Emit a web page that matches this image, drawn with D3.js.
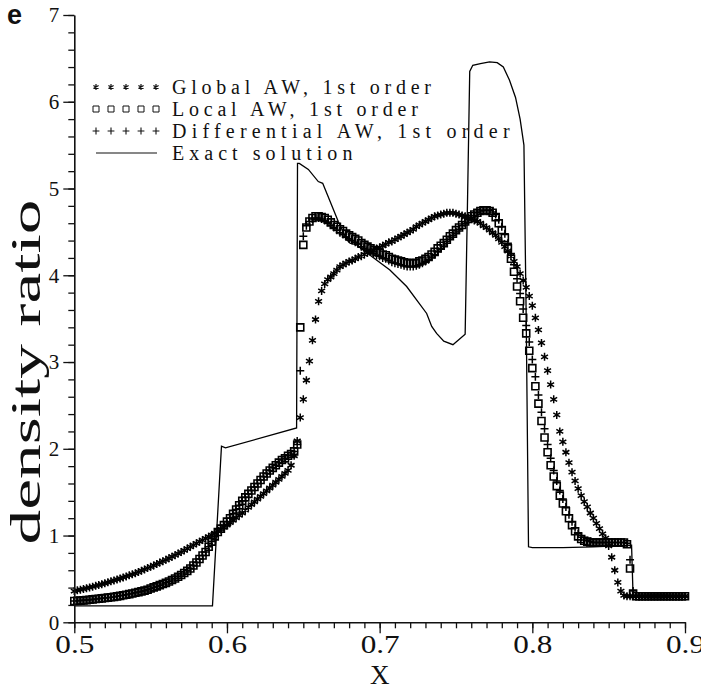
<!DOCTYPE html>
<html><head><meta charset="utf-8">
<script src="https://cdn.jsdelivr.net/npm/d3@7"></script>
<style>body{margin:0;background:#fff}</style>
</head><body>
<svg id="c" width="701" height="692"></svg>
<script>
// ---------- data ----------
const xTicks = [0.5, 0.6, 0.7, 0.8, 0.9];
const xTickLabels = ["0.5", "0.6", "0.7", "0.8", "0.9"];
const yTicks = [0, 1, 2, 3, 4, 5, 6, 7];
const yTickLabels = ["0", "1", "2", "3", "4", "5", "6", "7"];
const seriesNames = ["Global AW, 1st order", "Local AW, 1st order", "Differential AW, 1st order", "Exact solution"];
const panelLabel = "e";
const xTitle = "X";
const yTitle = "density ratio";

// sample positions of the numerical solutions: 0.5 .. 0.9, every 0.002
const gridStart = 0.5, gridStep = 0.002, gridCount = 201;

const globalAW = [
  0.36,0.368,0.376,0.384,0.393,0.402,0.411,0.42,0.43,0.44,
  0.45,0.461,0.472,0.483,0.494,0.505,0.517,0.529,0.541,0.553,
  0.565,0.58,0.595,0.61,0.625,0.64,0.656,0.672,0.688,0.704,
  0.72,0.738,0.756,0.774,0.792,0.81,0.83,0.85,0.87,0.89,
  0.91,0.929,0.948,0.967,0.986,1.005,1.028,1.051,1.074,1.097,
  1.12,1.148,1.176,1.204,1.232,1.26,1.292,1.324,1.356,1.388,
  1.42,1.452,1.484,1.516,1.548,1.58,1.614,1.648,1.682,1.716,
  1.75,1.81,1.92,2.09,2.36,2.57,2.79,3.01,3.25,3.49,
  3.70,3.82,3.90,3.95,3.98,4.02,4.06,4.10,4.12,4.14,
  4.16,4.17,4.19,4.21,4.22,4.24,4.26,4.27,4.29,4.31,
  4.32,4.34,4.36,4.38,4.39,4.41,4.43,4.45,4.47,4.49,
  4.51,4.53,4.56,4.58,4.60,4.62,4.64,4.66,4.68,4.69,
  4.70,4.71,4.72,4.72,4.72,4.71,4.70,4.69,4.68,4.66,
  4.65,4.63,4.62,4.60,4.57,4.55,4.52,4.49,4.46,4.42,
  4.38,4.33,4.28,4.22,4.16,4.10,4.02,3.94,3.86,3.76,
  3.65,3.51,3.37,3.22,3.06,2.90,2.74,2.57,2.39,2.20,
  2.08,1.96,1.84,1.73,1.63,1.54,1.46,1.39,1.33,1.26,
  1.20,1.14,1.08,1.02,0.97,0.88,0.75,0.60,0.46,0.36,
  0.31,0.30,0.30,0.30,0.30,0.30,0.30,0.30,0.30,0.30,
  0.30,0.30,0.30,0.30,0.30,0.30,0.30,0.30,0.30,0.30,
  0.30
];
const localAW = [
  0.245,0.247,0.25,0.253,0.256,0.26,0.264,0.268,0.272,0.276,
  0.28,0.284,0.288,0.293,0.299,0.305,0.311,0.318,0.325,0.332,
  0.34,0.348,0.356,0.365,0.376,0.39,0.402,0.414,0.428,0.442,
  0.455,0.471,0.487,0.505,0.525,0.545,0.569,0.593,0.62,0.655,
  0.69,0.73,0.77,0.81,0.87,0.93,0.99,1.04,1.08,1.12,
  1.16,1.20,1.25,1.30,1.35,1.40,1.44,1.48,1.52,1.56,
  1.60,1.64,1.68,1.715,1.75,1.78,1.81,1.84,1.87,1.89,
  1.92,1.94,1.97,2.05,3.40,4.35,4.55,4.62,4.66,4.68,
  4.68,4.67,4.66,4.64,4.61,4.58,4.56,4.53,4.51,4.48,
  4.46,4.44,4.42,4.40,4.37,4.35,4.33,4.31,4.29,4.27,
  4.26,4.24,4.23,4.21,4.19,4.18,4.17,4.16,4.15,4.14,
  4.14,4.14,4.14,4.16,4.17,4.19,4.21,4.24,4.27,4.31,
  4.34,4.37,4.41,4.45,4.48,4.52,4.55,4.58,4.62,4.65,
  4.68,4.70,4.72,4.74,4.75,4.75,4.74,4.72,4.67,4.60,
  4.52,4.43,4.31,4.19,4.04,3.87,3.70,3.51,3.33,3.13,
  2.93,2.72,2.52,2.32,2.13,1.96,1.81,1.68,1.57,1.46,
  1.37,1.28,1.20,1.12,1.05,0.99,0.96,0.94,0.93,0.92,
  0.92,0.92,0.92,0.92,0.92,0.92,0.92,0.92,0.92,0.92,
  0.92,0.90,0.62,0.33,0.30,0.30,0.30,0.30,0.30,0.30,
  0.30,0.30,0.30,0.30,0.30,0.30,0.30,0.30,0.30,0.30,
  0.30
];
const differentialAW = [
  0.245,0.247,0.25,0.253,0.256,0.26,0.264,0.268,0.272,0.276,
  0.28,0.284,0.288,0.293,0.299,0.305,0.311,0.318,0.325,0.332,
  0.34,0.348,0.356,0.365,0.376,0.39,0.402,0.414,0.428,0.442,
  0.455,0.471,0.487,0.505,0.525,0.545,0.569,0.593,0.62,0.655,
  0.69,0.73,0.77,0.81,0.87,0.93,0.99,1.04,1.08,1.12,
  1.16,1.20,1.25,1.30,1.35,1.40,1.44,1.48,1.52,1.56,
  1.60,1.64,1.68,1.715,1.75,1.78,1.81,1.84,1.87,1.89,
  1.92,1.94,1.97,2.05,2.90,4.45,4.57,4.62,4.65,4.66,
  4.66,4.65,4.63,4.61,4.58,4.55,4.52,4.49,4.47,4.44,
  4.42,4.40,4.38,4.36,4.33,4.31,4.29,4.27,4.25,4.23,
  4.22,4.20,4.19,4.17,4.15,4.14,4.13,4.12,4.11,4.10,
  4.10,4.10,4.11,4.12,4.14,4.16,4.18,4.21,4.24,4.28,
  4.31,4.35,4.39,4.43,4.46,4.50,4.53,4.57,4.60,4.64,
  4.67,4.69,4.72,4.74,4.75,4.75,4.75,4.73,4.70,4.64,
  4.56,4.48,4.37,4.25,4.12,3.96,3.79,3.61,3.42,3.23,
  3.03,2.83,2.62,2.42,2.23,2.05,1.89,1.75,1.63,1.52,
  1.42,1.33,1.24,1.16,1.09,1.02,0.98,0.95,0.94,0.93,
  0.92,0.92,0.92,0.92,0.92,0.92,0.92,0.92,0.92,0.92,
  0.92,0.91,0.72,0.36,0.30,0.30,0.30,0.30,0.30,0.30,
  0.30,0.30,0.30,0.30,0.30,0.30,0.30,0.30,0.30,0.30,
  0.30
];
const exactX = [0.5, 0.5905, 0.5964, 0.599, 0.6456, 0.6462, 0.6474, 0.6533, 0.6598, 0.6627, 0.6657, 0.6729,
  0.6784, 0.6806, 0.6849, 0.69, 0.7067, 0.7177, 0.7308, 0.7341, 0.7373, 0.742, 0.748, 0.752, 0.756, 0.7575,
  0.759, 0.761, 0.766, 0.772, 0.777, 0.781, 0.785, 0.789, 0.792, 0.7945, 0.796, 0.7975, 0.80, 0.82, 0.84,
  0.855, 0.865, 0.866, 0.9];
const exactY = [0.19, 0.19, 2.03, 2.01, 2.24, 5.29, 5.29, 5.22, 5.08, 5.06, 4.93, 4.62,
  4.41, 4.37, 4.35, 4.28, 4.06, 3.87, 3.56, 3.41, 3.33, 3.24, 3.20, 3.26, 3.32, 4.80,
  6.35, 6.42, 6.44, 6.46, 6.45, 6.40, 6.25, 6.05, 5.80, 5.50, 3.50, 0.87, 0.86, 0.86, 0.87,
  0.88, 0.89, 0.30, 0.30];

// ---------- drawing ----------
const svg = d3.select("#c");
const x = d3.scaleLinear().domain([0.5, 0.9]).range([74.3, 685]);
const y = d3.scaleLinear().domain([0, 7]).range([622.3, 15]);
const gridX = d3.range(gridCount).map(i => +(gridStart + i * gridStep).toFixed(4));

const starPath = (r) => {
  let p = "";
  [90, 30, -30].forEach(a => {
    const t = a * Math.PI / 180, dx = r * Math.cos(t), dy = r * Math.sin(t);
    p += `M${-dx},${-dy}L${dx},${dy}`;
  });
  return p;
};
const squarePath = (s) => `M${-s},${-s}h${2*s}v${2*s}h${-2*s}Z`;
const plusPath = (r) => `M${-r},0H${r}M0,${-r}V${r}`;

const markers = [
  {data: globalAW, path: starPath(4.0), sw: 1.5},
  {data: localAW, path: squarePath(3.5), sw: 1.6},
  {data: differentialAW, path: plusPath(4.0), sw: 1.5}
];

const plot = svg.append("g");
markers.forEach(m => {
  plot.append("g").selectAll("path").data(m.data).join("path")
    .attr("transform", (d, i) => `translate(${x(gridX[i])},${y(d)})`)
    .attr("d", m.path)
    .attr("fill", "none").attr("stroke", "#000").attr("stroke-width", m.sw);
});

const line = d3.line().x(d => x(d[0])).y(d => y(d[1]));
plot.append("path").datum(exactX.map((v, i) => [v, exactY[i]]))
  .attr("d", line).attr("fill", "none").attr("stroke", "#000").attr("stroke-width", 1.3);

// axes
const serif = "'Liberation Serif', 'DejaVu Serif', serif";
const xMinor = d3.range(0, 41).map(i => +(0.5 + i * 0.01).toFixed(2));
const yMinor = d3.range(0, 36).map(i => +(i * 0.2).toFixed(1));

const gx = svg.append("g").attr("transform", `translate(0,${y(0)})`);
gx.call(d3.axisBottom(x).tickValues(xMinor).tickSize(6).tickFormat("").tickSizeOuter(0));
gx.call(g => g.select(".domain").remove());
const gx2 = svg.append("g").attr("transform", `translate(0,${y(0)})`)
  .call(d3.axisBottom(x).tickValues(xTicks).tickSize(11).tickSizeOuter(0)
    .tickFormat((d, i) => xTickLabels[i]));
gx2.selectAll("text").attr("font-family", serif).attr("font-size", 25).attr("fill", "#111")
  .attr("dy", 0).attr("y", 31)
  .attr("textLength", 39).attr("lengthAdjust", "spacingAndGlyphs");

const gy = svg.append("g").attr("transform", `translate(${x(0.5)},0)`);
gy.call(d3.axisLeft(y).tickValues(yMinor).tickSize(6).tickFormat("").tickSizeOuter(0));
gy.call(g => g.select(".domain").remove());
const gy2 = svg.append("g").attr("transform", `translate(${x(0.5)},0)`)
  .call(d3.axisLeft(y).tickValues(yTicks).tickSize(11).tickSizeOuter(0)
    .tickFormat((d, i) => yTickLabels[i]));
gy2.selectAll("text").attr("font-family", serif).attr("font-size", 21).attr("fill", "#111")
  .attr("x", -15).attr("dy", "0.33em");

svg.selectAll(".domain").attr("stroke", "#111").attr("stroke-width", 1.6);
svg.selectAll(".tick line").attr("stroke", "#111").attr("stroke-width", 1.3);

// titles
svg.append("text").attr("x", (x(0.5) + x(0.9)) / 2).attr("y", 684)
  .attr("text-anchor", "middle").attr("font-family", serif).attr("font-size", 27)
  .attr("fill", "#111").text(xTitle);
svg.append("text").attr("transform", `translate(40,${372}) rotate(-90)`)
  .attr("text-anchor", "middle").attr("font-family", serif).attr("font-size", 42)
  .attr("fill", "#111").attr("textLength", 345).attr("lengthAdjust", "spacingAndGlyphs")
  .text(yTitle);
svg.append("text").attr("x", 7).attr("y", 24)
  .attr("font-family", "'Liberation Sans', Arial, sans-serif").attr("font-weight", "bold")
  .attr("font-size", 27).attr("fill", "#111").text(panelLabel);

// legend
const legRows = [87, 109, 131, 153];
const legSym = [starPath(3.0), squarePath(3.0), plusPath(3.4)];
const legSw = [1.2, 1.0, 1.1];
const legend = svg.append("g");
seriesNames.forEach((name, k) => {
  const ry = legRows[k];
  if (k < 3) {
    legend.append("g").selectAll("path").data(d3.range(5)).join("path")
      .attr("transform", j => `translate(${96 + j * 15},${ry})`)
      .attr("d", legSym[k]).attr("fill", "none").attr("stroke", "#111").attr("stroke-width", legSw[k]);
  } else {
    legend.append("line").attr("x1", 96).attr("x2", 157).attr("y1", ry).attr("y2", ry)
      .attr("stroke", "#111").attr("stroke-width", 1.2);
  }
  legend.append("text").attr("x", 172).attr("y", ry + 7)
    .attr("font-family", serif).attr("font-size", 20).attr("fill", "#111")
    .attr("textLength", name.length * 13.1 - 3).attr("lengthAdjust", "spacing")
    .text(name);
});
</script>
</body></html>
